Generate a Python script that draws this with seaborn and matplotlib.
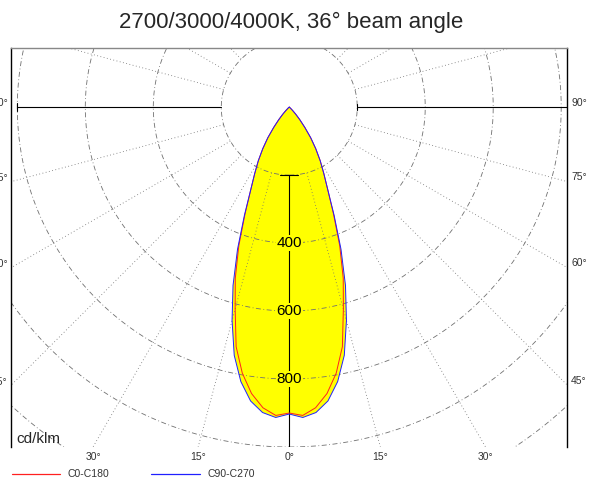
"""Polar luminous intensity diagram (cd/klm), drawn on a cartesian seaborn axes."""
import numpy as np
import pandas as pd
import matplotlib
matplotlib.use("Agg")
import matplotlib.pyplot as plt
import seaborn as sns
from matplotlib.lines import Line2D

# gamma angles (deg from nadir) and intensities
angles = [0, 2.5, 5, 7.5, 10, 12.5, 15, 17.5, 20, 22.5, 25, 27.5, 30,
          32.5, 35, 37.5, 40, 42.5, 45, 50, 55, 60]
c0_c180 = [900, 908, 888, 850, 795, 722, 615, 528, 434, 340, 268, 220, 182,
           145, 110, 75, 48, 28, 14, 4, 0, 0]
c90_c270 = [903, 914, 902, 872, 820, 748, 650, 550, 445, 345, 268, 220, 182,
            145, 110, 75, 48, 28, 14, 4, 0, 0]

grid_radii = [200, 400, 600, 800, 1000, 1200, 1400]
grid_angles = list(range(0, 360, 15))
scale_labels = ["400", "600", "800"]
scale_values = [400, 600, 800]
bottom_angles = [-30, -15, 0, 15, 30]
side_angles = [90, 75, 60, 45]

XLIM = (-820, 817)
YLIM = (-1000, 174)


def to_xy(theta, r):
    t = np.radians(theta)
    return np.asarray(r) * np.sin(t), -np.asarray(r) * np.cos(t)


def mirrored(a, v):
    a = np.asarray(a, float)
    v = np.asarray(v, float)
    return np.concatenate([-a[::-1], a[1:]]), np.concatenate([v[::-1], v[1:]])


sns.set_theme(style="white")
plt.rcParams["font.family"] = ["Liberation Sans", "DejaVu Sans"]

fig = plt.figure(figsize=(5.91, 4.80), dpi=100)
ax = fig.add_axes([10.5 / 591, 33 / 480, 556.5 / 591, 399 / 480])
ax.set_xlim(*XLIM)
ax.set_ylim(*YLIM)

# curves
frames = []
for name, vals in [("C0-C180", c0_c180), ("C90-C270", c90_c270)]:
    a, v = mirrored(angles, vals)
    x, y = to_xy(a, v)
    frames.append(pd.DataFrame({"x": x, "y": y, "curve": name}))
df = pd.concat(frames, ignore_index=True)

outer = df[df["curve"] == "C90-C270"]
ax.fill(outer["x"], outer["y"], color="#ffff00", lw=0, zorder=1)

sns.lineplot(data=df, x="x", y="y", hue="curve", sort=False, estimator=None,
             palette={"C0-C180": "#ff2020", "C90-C270": "#2020ff"},
             lw=0.7, legend=False, ax=ax, zorder=3)

# polar grid
t = np.linspace(0, 360, 721)
for r in grid_radii:
    gx, gy = to_xy(t, r)
    ax.plot(gx, gy, color="#707070", lw=0.6, ls=(0, (6, 3, 1, 3)), zorder=2)
for g in grid_angles:
    if g in (0, 90, 270, 180):
        continue
    gx, gy = to_xy(g, np.array([200, 2000]))
    ax.plot(gx, gy, color="#707070", lw=0.6, ls=(0, (1, 3)), zorder=2)

# solid scale axes
ax.plot([0, 0], [-200, -1100], color="black", lw=0.8, zorder=2)
ax.plot([-26, 26], [-200, -200], color="black", lw=0.8, zorder=2)
ax.plot([-200, -800], [0, 0], color="black", lw=0.8, zorder=2)
ax.plot([-800, -800], [-12, 12], color="black", lw=0.8, zorder=2)
ax.plot([200, 1000], [0, 0], color="black", lw=0.8, zorder=2)
ax.plot([200, 200], [-9, 9], color="black", lw=0.8, zorder=2)

for lab, r in zip(scale_labels, scale_values):
    ax.text(0, -r, lab, ha="center", va="center", fontsize=11, color="black",
            bbox=dict(facecolor="#ffff00", edgecolor="none", pad=0.6), zorder=4)

fig.text(16 / 591, 1 - 439 / 480, "cd/klm", fontsize=11, ha="left", va="center")

# angle labels where the rays leave the frame
for g in bottom_angles:
    bx = -YLIM[0] * np.tan(np.radians(g))
    ax.text(bx, YLIM[0] - 30, f"{abs(g)}\u00b0", ha="center", va="center",
            fontsize=7.5, color="#333333", clip_on=False)
for g in side_angles:
    sy = -XLIM[1] / np.tan(np.radians(g)) if g != 90 else 0
    ax.text(XLIM[1] + 12, sy + 12, f"{g}\u00b0", ha="left", va="center",
            fontsize=7.5, color="#333333", clip_on=False)
    sy = XLIM[0] / np.tan(np.radians(g)) if g != 90 else 0
    ax.text(XLIM[0] - 8, sy + 12, f"{g}\u00b0", ha="right", va="center",
            fontsize=7.5, color="#333333", clip_on=False)

ax.set_xticks([])
ax.set_yticks([])
ax.set_xlabel("")
ax.set_ylabel("")
sns.despine(ax=ax, top=False, right=False, left=False, bottom=True)
for side in ("left", "right"):
    ax.spines[side].set_color("black")
    ax.spines[side].set_linewidth(1.0)
ax.spines["top"].set_color("#888888")
ax.spines["top"].set_linewidth(1.0)

fig.suptitle("2700/3000/4000K, 36\u00b0 beam angle", x=291.5 / 591, y=1 - 22 / 480,
             va="center", fontsize=16)

# legend along the bottom
H = 480
for (x0, x1, color, label) in [(12, 60, "#ff2020", "C0-C180"),
                               (151, 200, "#2020ff", "C90-C270")]:
    fig.add_artist(Line2D([x0 / 591, x1 / 591], [1 - 474 / H, 1 - 474 / H],
                          color=color, lw=0.9))
    fig.text((x1 + 7) / 591, 1 - 474 / H, label, fontsize=7.5, va="center",
             color="#333333")

fig.savefig("out.png", dpi=100)
